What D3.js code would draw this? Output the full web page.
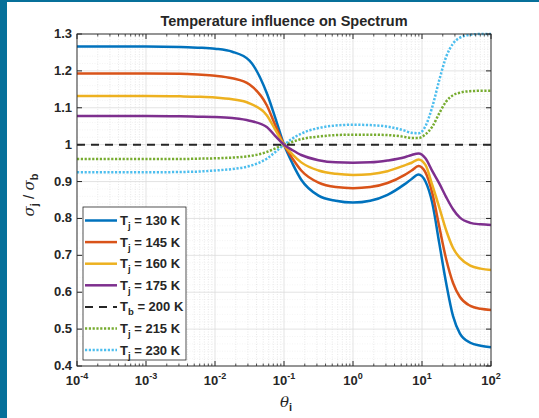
<!DOCTYPE html>
<html>
<head>
<meta charset="utf-8">
<script src="https://cdn.jsdelivr.net/npm/d3@7"></script>
<style>
  body { margin: 0; background: #fff; }
  svg { display: block; }
  text { font-family: "Liberation Sans", Arial, sans-serif; fill: #262626; }
</style>
</head>
<body>
<svg id="chart" width="539" height="418"></svg>
<script>
// log10(theta) sample positions
const thetaExp = [-4, -3, -2.5, -2.25, -2, -1.75, -1.5, -1.25, -1.125, -1, -0.875, -0.75, -0.5, -0.25, 0,
                  0.25, 0.5, 0.75, 0.85, 0.95, 1.05, 1.15, 1.25, 1.35, 1.45, 1.55, 1.7, 1.85, 2];

const tj130 = [1.266, 1.266, 1.265, 1.263, 1.26, 1.252, 1.228, 1.14, 1.072, 1.0, 0.948, 0.905, 0.862, 0.848, 0.843,
               0.848, 0.864, 0.893, 0.907, 0.919, 0.90, 0.841, 0.733, 0.625, 0.535, 0.488, 0.463, 0.455, 0.451];
const tj145 = [1.193, 1.193, 1.192, 1.190, 1.187, 1.18, 1.163, 1.107, 1.052, 1.0, 0.962, 0.93, 0.897, 0.885, 0.882,
               0.885, 0.896, 0.918, 0.93, 0.942, 0.925, 0.868, 0.778, 0.69, 0.625, 0.587, 0.563, 0.555, 0.552];
const tj160 = [1.132, 1.132, 1.131, 1.130, 1.128, 1.123, 1.112, 1.08, 1.04, 1.0, 0.973, 0.952, 0.93, 0.921, 0.918,
               0.92, 0.928, 0.944, 0.951, 0.96, 0.945, 0.89, 0.83, 0.768, 0.72, 0.693, 0.672, 0.664, 0.66];
const tj175 = [1.078, 1.078, 1.077, 1.076, 1.075, 1.072, 1.065, 1.048, 1.023, 1.0, 0.985, 0.972, 0.958, 0.952, 0.951,
               0.952, 0.957, 0.966, 0.972, 0.976, 0.963, 0.928, 0.895, 0.858, 0.825, 0.802, 0.788, 0.784, 0.782];
const tb200 = [1, 1, 1, 1, 1, 1, 1, 1, 1, 1, 1, 1, 1, 1, 1, 1, 1, 1, 1, 1, 1, 1, 1, 1, 1, 1, 1, 1, 1];
const tj215 = [0.961, 0.961, 0.961, 0.962, 0.963, 0.965, 0.969, 0.98, 0.99, 1.0, 1.008, 1.015, 1.022, 1.026, 1.027,
               1.027, 1.026, 1.021, 1.018, 1.018, 1.028, 1.049, 1.085, 1.117, 1.134, 1.141, 1.145, 1.146, 1.146];
const tj230 = [0.925, 0.925, 0.926, 0.927, 0.93, 0.934, 0.942, 0.962, 0.98, 1.0, 1.017, 1.03, 1.045, 1.052, 1.054,
               1.053, 1.049, 1.038, 1.032, 1.031, 1.05, 1.103, 1.175, 1.238, 1.274, 1.29, 1.298, 1.3, 1.3];

const seriesNames = ["130 K", "145 K", "160 K", "175 K", "200 K", "215 K", "230 K"];
const seriesSub = ["j", "j", "j", "j", "b", "j", "j"];
const seriesValues = [tj130, tj145, tj160, tj175, tb200, tj215, tj230];
const seriesColors = ["#0072BD", "#D95319", "#EDB120", "#7E2F8E", "#262626", "#77AC30", "#4DBEEE"];
const seriesDash = [null, null, null, null, "8,6", "2.2,1.6", "2.2,1.6"];

const yTicks = [0.4, 0.5, 0.6, 0.7, 0.8, 0.9, 1, 1.1, 1.2, 1.3];
const xTickExp = [-4, -3, -2, -1, 0, 1, 2];

const svg = d3.select("#chart");
const pLeft = 77, pRight = 491, pTop = 34, pBottom = 366;

// slide frame
svg.append("rect").attr("x", 0).attr("y", 0).attr("width", 7).attr("height", 418).attr("fill", "#06709a");
svg.append("rect").attr("x", 0).attr("y", 0).attr("width", 539).attr("height", 2).attr("fill", "#06709a");

const x = d3.scaleLog().domain([1e-4, 1e2]).range([pLeft, pRight]);
const y = d3.scaleLinear().domain([0.4, 1.3]).range([pBottom, pTop]);

// minor x values for log grid
const minorX = [];
for (let e = -4; e < 2; e++) {
    for (let k = 2; k <= 9; k++) minorX.push(k * Math.pow(10, e));
}
const minorY = d3.range(0.4, 1.3001, 0.02).filter(v => Math.abs(v * 10 - Math.round(v * 10)) > 1e-6);

const grid = svg.append("g");
grid.selectAll(".mx").data(minorX).enter().append("line")
    .attr("x1", d => x(d)).attr("x2", d => x(d))
    .attr("y1", pTop).attr("y2", pBottom)
    .attr("stroke", "#d6d6d6").attr("stroke-width", 0.6).attr("stroke-dasharray", "1,1.5");
grid.selectAll(".my").data(minorY).enter().append("line")
    .attr("x1", pLeft).attr("x2", pRight)
    .attr("y1", d => y(d)).attr("y2", d => y(d))
    .attr("stroke", "#ececec").attr("stroke-width", 0.6).attr("stroke-dasharray", "1,1.5");
grid.selectAll(".gx").data(xTickExp).enter().append("line")
    .attr("x1", d => x(Math.pow(10, d))).attr("x2", d => x(Math.pow(10, d)))
    .attr("y1", pTop).attr("y2", pBottom)
    .attr("stroke", "#dcdcdc").attr("stroke-width", 0.8);
grid.selectAll(".gy").data(yTicks).enter().append("line")
    .attr("x1", pLeft).attr("x2", pRight)
    .attr("y1", d => y(d)).attr("y2", d => y(d))
    .attr("stroke", "#dcdcdc").attr("stroke-width", 0.8);

// curves
svg.append("clipPath").attr("id", "clip").append("rect")
    .attr("x", pLeft).attr("y", pTop - 2).attr("width", pRight - pLeft).attr("height", pBottom - pTop + 4);

const line = d3.line()
    .x((d, i) => x(Math.pow(10, thetaExp[i])))
    .y(d => y(d))
    .curve(d3.curveMonotoneX);

const curves = svg.append("g").attr("clip-path", "url(#clip)");
const drawOrder = [5, 6, 0, 1, 2, 3, 4];
drawOrder.forEach(i => {
    curves.append("path")
        .attr("d", line(seriesValues[i]))
        .attr("fill", "none")
        .attr("stroke", seriesColors[i])
        .attr("stroke-width", i === 4 ? 2 : 2.5)
        .attr("stroke-dasharray", seriesDash[i]);
});

// axes box and ticks (inside, all four sides)
const axis = svg.append("g").attr("stroke", "#262626");
axis.append("rect").attr("x", pLeft).attr("y", pTop).attr("width", pRight - pLeft).attr("height", pBottom - pTop)
    .attr("fill", "none").attr("stroke-width", 0.9);
xTickExp.forEach(e => {
    const px = x(Math.pow(10, e));
    axis.append("line").attr("x1", px).attr("x2", px).attr("y1", pBottom).attr("y2", pBottom - 5);
    axis.append("line").attr("x1", px).attr("x2", px).attr("y1", pTop).attr("y2", pTop + 5);
});
minorX.forEach(v => {
    const px = x(v);
    axis.append("line").attr("x1", px).attr("x2", px).attr("y1", pBottom).attr("y2", pBottom - 2.5).attr("stroke-width", 0.8);
    axis.append("line").attr("x1", px).attr("x2", px).attr("y1", pTop).attr("y2", pTop + 2.5).attr("stroke-width", 0.8);
});
yTicks.forEach(v => {
    const py = y(v);
    axis.append("line").attr("x1", pLeft).attr("x2", pLeft + 5).attr("y1", py).attr("y2", py);
    axis.append("line").attr("x1", pRight).attr("x2", pRight - 5).attr("y1", py).attr("y2", py);
});

// tick labels
svg.append("g").selectAll("text").data(yTicks).enter().append("text")
    .attr("x", pLeft - 5).attr("y", d => y(d) + 4)
    .attr("text-anchor", "end")
    .style("font-size", "13px").style("font-weight", "bold")
    .text(d => d3.format("~g")(d));

const xl = svg.append("g").selectAll("text").data(xTickExp).enter().append("text")
    .attr("x", d => x(Math.pow(10, d)))
    .attr("y", 385)
    .attr("text-anchor", "middle")
    .style("font-size", "13px").style("font-weight", "bold");
xl.append("tspan").text("10");
xl.append("tspan").attr("dy", -6).style("font-size", "9px").text(d => String(d));

// title
svg.append("text").attr("x", 284).attr("y", 26).attr("text-anchor", "middle")
    .style("font-size", "14.5px").style("font-weight", "bold")
    .text("Temperature influence on Spectrum");

// axis labels
const ylab = svg.append("text")
    .attr("transform", "translate(34,195) rotate(-90)")
    .attr("text-anchor", "middle")
    .style("font-size", "15px");
ylab.append("tspan").style("font-family", "DejaVu Serif").style("font-style", "italic").text("σ");
ylab.append("tspan").attr("dy", 4).style("font-size", "11px").style("font-weight", "bold").text("j");
ylab.append("tspan").attr("dy", -4).text(" / ");
ylab.append("tspan").style("font-family", "DejaVu Serif").style("font-style", "italic").text("σ");
ylab.append("tspan").attr("dy", 4).style("font-size", "11px").style("font-weight", "bold").text("b");

const xlab = svg.append("text").attr("x", 286).attr("y", 407).attr("text-anchor", "middle")
    .style("font-size", "15px");
xlab.append("tspan").style("font-family", "DejaVu Serif").style("font-style", "italic").text("θ");
xlab.append("tspan").attr("dy", 4).style("font-size", "11px").style("font-weight", "bold").text("i");

// legend
const lg = svg.append("g");
lg.append("rect").attr("x", 83).attr("y", 207).attr("width", 103).attr("height", 153)
    .attr("fill", "#fff").attr("stroke", "#262626").attr("stroke-width", 0.8);
seriesNames.forEach((name, i) => {
    const cy = 220.5 + i * 21.6;
    lg.append("line").attr("x1", 85).attr("x2", 117).attr("y1", cy).attr("y2", cy)
        .attr("stroke", seriesColors[i])
        .attr("stroke-width", i === 4 ? 2 : 2.5)
        .attr("stroke-dasharray", seriesDash[i]);
    const t = lg.append("text").attr("x", 120).attr("y", cy + 4.5)
        .style("font-size", "13px").style("font-weight", "bold");
    t.append("tspan").text("T");
    t.append("tspan").attr("dy", 4).style("font-size", "9.5px").text(seriesSub[i]);
    t.append("tspan").attr("dy", -4).text(" = " + name);
});
</script>
</body>
</html>
